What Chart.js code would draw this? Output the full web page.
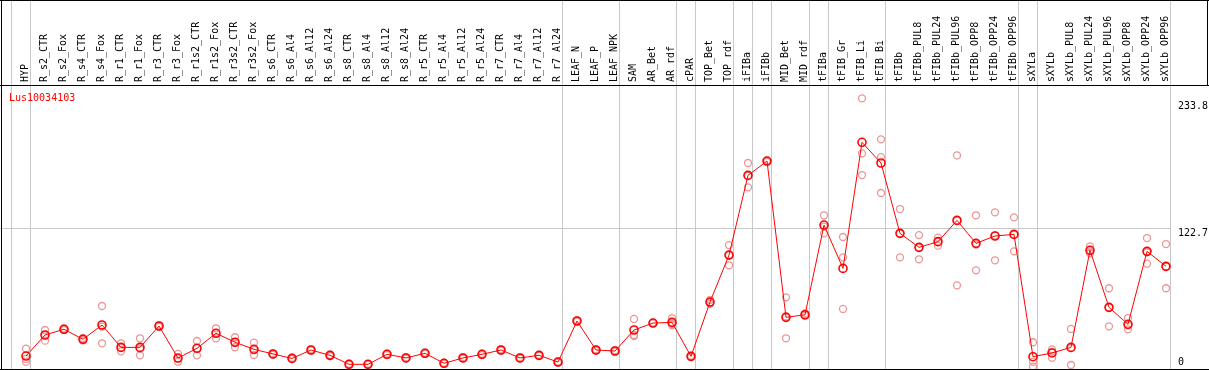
<!DOCTYPE html>
<html>
<head>
<meta charset="utf-8">
<script src="https://cdn.jsdelivr.net/npm/chart.js@4.4.1/dist/chart.umd.min.js"></script>
<style>
html, body { margin: 0; padding: 0; background: #fff; }
#wrap { width: 1209px; height: 370px; }
</style>
</head>
<body>
<div id="wrap"><canvas id="c" width="1209" height="370"></canvas></div>
<script>
const geneName = 'Lus10034103';

const categories = [
  'HYP', 'R_s2_CTR', 'R_s2_Fox', 'R_s4_CTR', 'R_s4_Fox', 'R_r1_CTR', 'R_r1_Fox', 'R_r3_CTR', 'R_r3_Fox',
  'R_r1s2_CTR', 'R_r1s2_Fox', 'R_r3s2_CTR', 'R_r3s2_Fox', 'R_s6_CTR', 'R_s6_Al4', 'R_s6_Al12', 'R_s6_Al24',
  'R_s8_CTR', 'R_s8_Al4', 'R_s8_Al12', 'R_s8_Al24', 'R_r5_CTR', 'R_r5_Al4', 'R_r5_Al12', 'R_r5_Al24',
  'R_r7_CTR', 'R_r7_Al4', 'R_r7_Al12', 'R_r7_Al24', 'LEAF_N', 'LEAF_P', 'LEAF_NPK', 'SAM', 'AR_Bet', 'AR_rdf',
  'cPAR', 'TOP_Bet', 'TOP_rdf', 'iFIBa', 'iFIBb', 'MID_Bet', 'MID_rdf', 'tFIBa', 'tFIB_Gr', 'tFIB_Li', 'tFIB_Bi',
  'tFIBb', 'tFIBb_PUL8', 'tFIBb_PUL24', 'tFIBb_PUL96', 'tFIBb_OPP8', 'tFIBb_OPP24', 'tFIBb_OPP96',
  'sXYLa', 'sXYLb', 'sXYLb_PUL8', 'sXYLb_PUL24', 'sXYLb_PUL96', 'sXYLb_OPP8', 'sXYLb_OPP24', 'sXYLb_OPP96'
];

const meanValues = [
  10.1, 28.6, 33.6, 24.8, 37.4, 17.7, 17.7, 36.5, 8.3, 16.9,
  30.1, 22.2, 16.0, 11.9, 8.0, 15.4, 10.7, 2.8, 2.8, 11.6,
  8.4, 12.5, 3.7, 8.4, 11.6, 15.4, 8.4, 10.7, 4.8, 40.9,
  15.4, 14.5, 33.0, 39.1, 39.7, 9.8, 57.6, 98.9, 169.0, 181.6,
  44.1, 46.4, 125.3, 87.2, 198.1, 179.9, 118.0, 105.7, 110.7, 129.4,
  109.2, 115.7, 117.1, 9.5, 12.8, 17.7, 103.1, 52.9, 38.0, 102.2, 89.0
];

const replicateA = [
  16.6, 33.0, 34.3, 26.0, 54.1, 21.3, 25.7, 37.2, 11.9, 23.3,
  34.5, 26.6, 21.8, 12.5, 8.6, 16.0, 11.3, 3.3, 3.2, 12.2,
  9.0, 13.1, 4.2, 9.0, 12.2, 16.0, 9.0, 11.2, 5.3, 41.5,
  16.0, 15.1, 42.7, 39.5, 43.5, 10.4, 59.5, 107.7, 179.9, 182.0,
  61.7, 47.5, 133.9, 114.8, 236.8, 200.7, 139.4, 116.5, 114.2, 186.6,
  133.9, 136.5, 132.1, 22.2, 16.0, 33.9, 106.6, 69.7, 43.5, 113.9, 108.6
];

const replicateB = [
  7.5, 23.6, 33.0, 23.8, 21.3, 14.2, 10.7, 35.8, 5.1, 10.7,
  25.7, 17.8, 11.0, 11.2, 7.4, 14.8, 10.1, 2.3, 2.4, 11.0,
  7.8, 11.9, 3.2, 7.8, 11.0, 14.8, 7.8, 10.2, 4.3, 40.3,
  14.8, 13.9, 27.7, 38.8, 38.5, 9.2, 56.0, 89.9, 158.5, 181.0,
  25.7, 45.5, 118.0, 96.9, 188.4, 185.1, 96.9, 95.2, 107.2, 72.3,
  85.5, 94.3, 102.2, 5.1, 8.6, 2.2, 100.5, 36.2, 33.6, 91.3, 69.7
];

const replicateC = [
  5.1, 28.5, 33.5, 24.6, 35.9, 17.6, 16.5, 36.5, 8.0, 17.0,
  30.3, 22.1, 15.2, 12.0, 8.0, 15.4, 10.7, 2.8, 2.8, 11.6,
  8.4, 12.5, 3.7, 8.4, 11.6, 15.4, 8.4, 10.7, 4.8, 40.9,
  15.4, 14.5, 28.6, 39.0, 37.1, 9.8, 57.3, 99.1, 168.6, 181.8,
  44.9, 46.2, 124.0, 51.5, 169.3, 153.5, 117.7, 105.4, 110.7, 129.3,
  108.2, 116.3, 117.0, 0.7, 13.8, 17.0, 102.2, 52.8, 37.0, 101.4, 88.7
];

const yTickValues = [0, 122.7, 233.8];
const yGridValues = [122.7];
// index of the last category in each group (a separator follows it)
const groupBreaks = [-1, 0, 28, 31, 34, 35, 37, 38, 39, 41, 42, 45, 52, 53, 60];

const toPoints = arr => arr.map((v, i) => ({ x: i, y: v }));
const monoFont = { family: "'DejaVu Sans Mono', monospace", size: 10 };
const REP_COLOR = '#eb9696';
const GRID_COLOR = '#c8c8c8';

const repStyle = {
  showLine: false,
  borderColor: REP_COLOR,
  backgroundColor: 'rgba(0,0,0,0)',
  pointBorderColor: REP_COLOR,
  pointBackgroundColor: 'rgba(0,0,0,0)',
  pointRadius: 3.5,
  pointHoverRadius: 3.5,
  pointBorderWidth: 1.3,
  clip: false
};

const separatorPlugin = {
  id: 'separators',
  beforeDatasetsDraw(chart) {
    const ctx = chart.ctx, s = chart.scales.x;
    ctx.save();
    ctx.strokeStyle = GRID_COLOR;
    ctx.lineWidth = 1;
    groupBreaks.forEach(b => {
      const px = Math.floor(s.getPixelForValue(b + 0.24)) + 0.5;
      ctx.beginPath();
      ctx.moveTo(px, 0);
      ctx.lineTo(px, chart.height);
      ctx.stroke();
    });
    ctx.restore();
  }
};

const yLabelPlugin = {
  id: 'yLabelShift',
  beforeDraw(chart) {
    const s = chart.scales.y;
    const items = s.getLabelItems();
    items.forEach(it => {
      if (it._shifted) return;
      const t = it.options.translation;
      t[1] = Math.min(t[1] + 5, chart.chartArea.bottom - 5.5);
      it._shifted = true;
    });
  }
};

const framePlugin = {
  id: 'frame',
  afterDraw(chart) {
    const ctx = chart.ctx, W = chart.width, H = chart.height, top = Math.round(chart.chartArea.top);
    ctx.save();
    ctx.fillStyle = '#000';
    ctx.fillRect(0, 0, W, 1);
    ctx.fillRect(1, 0, 1, H);
    ctx.fillRect(0, top, W, 1);
    ctx.fillRect(0, H - 1, W, 1);
    ctx.fillRect(W - 2, 0, 1, top);
    ctx.fillStyle = '#ff0000';
    ctx.font = "10px 'DejaVu Sans Mono', monospace";
    ctx.textBaseline = 'alphabetic';
    ctx.textAlign = 'left';
    ctx.fillText(geneName, 9, top + 16);
    ctx.restore();
  }
};

new Chart(document.getElementById('c'), {
  type: 'line',
  data: {
    datasets: [
      {
        label: geneName,
        data: toPoints(meanValues),
        borderColor: '#ff0000',
        borderWidth: 1,
        backgroundColor: 'rgba(0,0,0,0)',
        pointBorderColor: '#ff0000',
        pointBackgroundColor: 'rgba(0,0,0,0)',
        pointRadius: 4,
        pointHoverRadius: 4,
        pointBorderWidth: 1.6,
        tension: 0,
        clip: false
      },
      Object.assign({ label: 'rep A', data: toPoints(replicateA) }, repStyle),
      Object.assign({ label: 'rep B', data: toPoints(replicateB) }, repStyle),
      Object.assign({ label: 'rep C', data: toPoints(replicateC) }, repStyle)
    ]
  },
  options: {
    responsive: false,
    animation: false,
    devicePixelRatio: 1,
    events: [],
    layout: { autoPadding: false, padding: { top: 12.8, bottom: 2.5, left: 0, right: 0 } },
    plugins: { legend: { display: false }, title: { display: false }, tooltip: { enabled: false } },
    scales: {
      x: {
        type: 'linear',
        position: 'top',
        min: -26 / 19,
        max: 1144 / 19,
        afterBuildTicks: s => { s.ticks = categories.map((c, i) => ({ value: i })); },
        ticks: {
          autoSkip: false,
          minRotation: 90,
          maxRotation: 90,
          padding: 3,
          labelOffset: 11,
          font: monoFont,
          color: '#000',
          callback: (v, i) => categories[i]
        },
        grid: { display: false, drawTicks: false, tickLength: 0 },
        border: { display: false }
      },
      y: {
        type: 'linear',
        position: 'right',
        min: 0,
        max: 248.5,
        afterBuildTicks: s => { s.ticks = yTickValues.map(v => ({ value: v })); },
        afterFit: s => { s.width = 39; s.paddingTop = 0; s.paddingBottom = 0; },
        ticks: {
          padding: 8,
          font: monoFont,
          color: '#000',
          callback: v => String(v)
        },
        grid: {
          drawTicks: false,
          lineWidth: 1,
          color: c => (c.tick && yGridValues.includes(c.tick.value)) ? GRID_COLOR : 'rgba(0,0,0,0)'
        },
        border: { display: false }
      }
    }
  },
  plugins: [separatorPlugin, yLabelPlugin, framePlugin]
});
</script>
</body>
</html>
